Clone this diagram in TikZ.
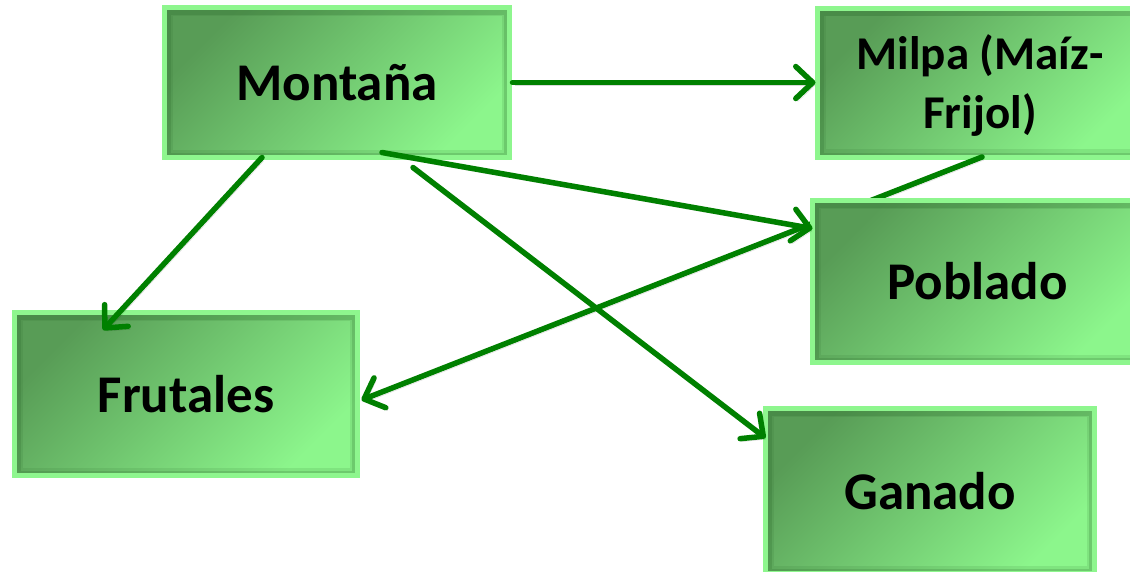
\documentclass[tikz,border=0pt]{standalone}
\usepackage{fontspec}
\setmainfont{Carlito}
\usetikzlibrary{arrows.meta,calc}
\definecolor{boxdark}{RGB}{88,156,86}
\definecolor{boxlight}{RGB}{140,246,140}
\definecolor{boxedge}{RGB}{142,246,142}
\definecolor{boxshade}{RGB}{40,100,40}
\definecolor{arrowgreen}{RGB}{0,128,0}
\tikzset{
  box/.style={rectangle, draw=boxedge, line width=5pt, inner sep=0pt, outer sep=0pt,
    top color=boxdark, bottom color=boxlight, shading angle=45,
    font=\fontsize{53}{59}\selectfont\bfseries, align=center, text=black,
    path picture={
      \draw[boxshade, opacity=.12, line width=16pt] (path picture bounding box.south west) rectangle (path picture bounding box.north east);
      \draw[boxshade, opacity=.2, line width=9pt] ([xshift=2pt]path picture bounding box.south west) rectangle ([xshift=-1pt,yshift=-3pt]path picture bounding box.north east);
    }},
  link/.style={draw=arrowgreen, line width=5.5pt, line cap=round,
    preaction={draw=black, opacity=.15, transform canvas={shift={(2pt,-3pt)}}}},
  linkarrow/.style={link, -{Straight Barb[length=17pt,width=32pt,line cap=round,line join=round]}}
}
\begin{document}
\begin{tikzpicture}[x=1pt,y=-1pt]
\useasboundingbox (0,0) rectangle (1130,571);
\fill[white] (0,0) rectangle (1130,571);
\node[box, minimum width=345pt, minimum height=150pt] (mont) at (337,82.5) {Montaña};
\node[box, minimum width=325pt, minimum height=149pt] (milpa) at (980,82.5) {\raisebox{-4.5pt}[\height][\depth]{\fontsize{47}{59}\selectfont\bfseries\begin{tabular}{@{}c@{}}Milpa (Maíz-\\Frijol)\end{tabular}}};
\node[box, minimum width=343pt, minimum height=163pt] (frut) at (186,394) {Frutales};
\node[box, minimum width=329pt, minimum height=165pt] (gan) at (930,491) {Ganado};
\draw[linkarrow] ($(milpa.south)+(2,0)$) -- ($(frut.east)+(4,6)$);
\node[box, minimum width=330pt, minimum height=162pt] (pob) at (977.5,281.5) {Poblado};
\draw[linkarrow] ($(mont.east)+(3,0)$) -- ($(milpa.west)+(-2,0)$);
\draw[linkarrow] ($(mont.south)+(-75,0)$) -- ($(frut.north)+(-83,17.5)$);
\draw[linkarrow] ($(mont.south)+(45,-5)$) -- ($(pob.west)+(0,-53)$);
\draw[linkarrow] ($(mont.south)+(76,10)$) -- ($(gan.west)+(0,-53)$);
\end{tikzpicture}
\end{document}
